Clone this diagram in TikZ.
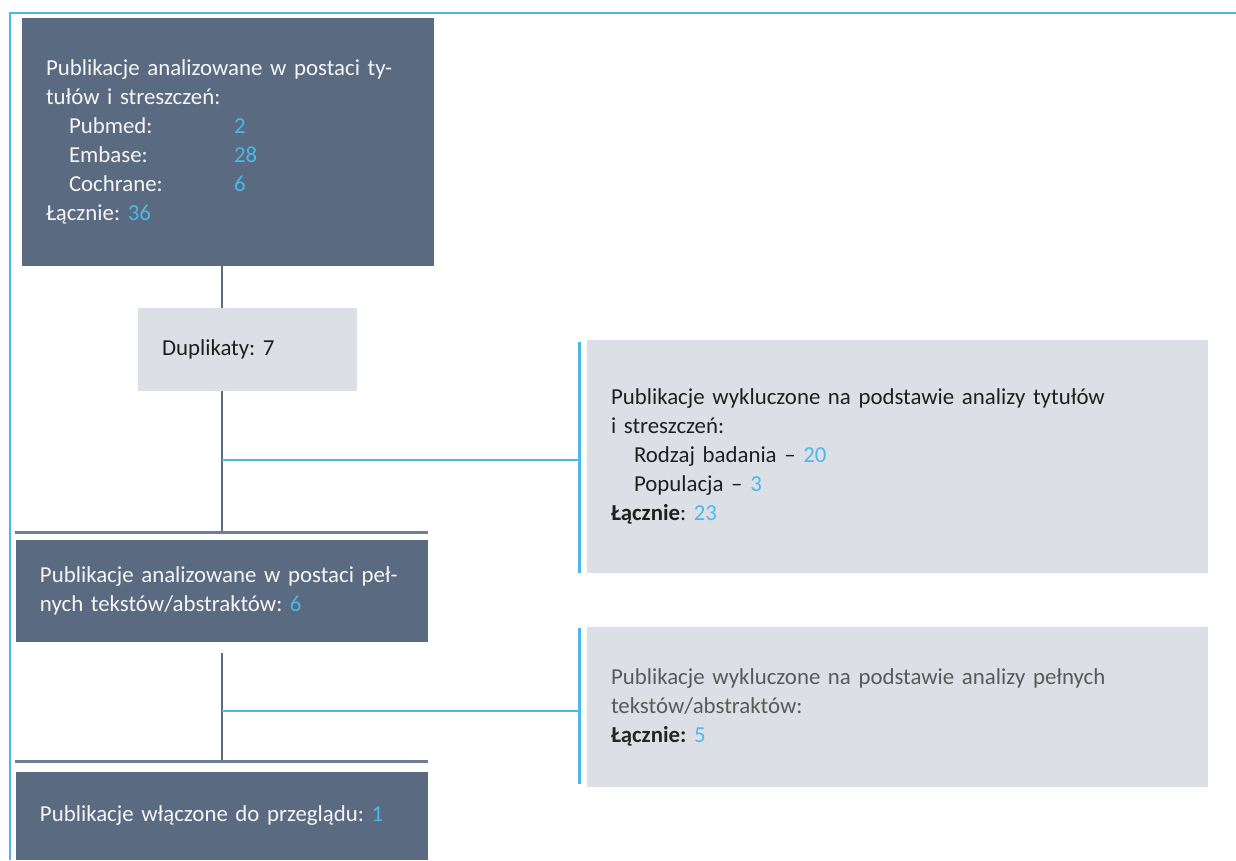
\documentclass[tikz,border=0pt]{standalone}
\usepackage{fontspec}
\setmainfont{Carlito}
\usetikzlibrary{positioning,calc}

\definecolor{slate}{HTML}{5A6A80}
\definecolor{slatebar}{HTML}{6E7E94}
\definecolor{paleblue}{HTML}{DCE0E6}
\definecolor{accent}{HTML}{4DB8E8}
\definecolor{greytext}{HTML}{595959}

\newcommand{\cnt}[1]{\textcolor{accent}{#1}}
\frenchspacing

\begin{document}
\begin{tikzpicture}[
	font=\fontsize{13}{16.5}\selectfont,
	dark/.style={
		rectangle, fill=slate, text=white!94!slate,
		text width=7.28cm, align=left,
		inner xsep=0.48cm, inner ysep=0pt
	},
	light/.style={
		rectangle, fill=paleblue, text=black!88,
		align=left, inner xsep=0.48cm, inner ysep=0pt
	},
	side/.style={
		light, text width=11.46cm
	},
	trunk/.style={draw=slate, line width=1.7pt},
	bar/.style={draw=slatebar, line width=1.7pt},
	branch/.style={draw=accent, line width=1.5pt},
	frame/.style={draw=accent, line width=1.1pt}
]
\useasboundingbox (0,0) rectangle (24.72,-17.2);

% Outer frame (cut at right and bottom)
\draw[frame] (0.2,-17.2) -- (0.2,-0.26) -- (24.72,-0.26);

% Main column
\node[dark, minimum height=4.96cm] (search) at (4.56,-2.84) {
	Publikacje analizowane w postaci ty-\\
	tułów i streszczeń:\\
	\hspace*{0.46cm}\makebox[3.3cm][l]{Pubmed:}\cnt{2}\\
	\hspace*{0.46cm}\makebox[3.3cm][l]{Embase:}\cnt{28}\\
	\hspace*{0.46cm}\makebox[3.3cm][l]{Cochrane:}\cnt{6}\\
	Łącznie: \cnt{36}
};
\node[light, text width=3.42cm, minimum height=1.66cm] (dup) at (4.95,-6.99) {Duplikaty: 7};
\node[dark, minimum height=2.04cm] (fulltext) at (4.44,-11.82) {
	Publikacje analizowane w postaci peł-\\
	nych tekstów/abstraktów: \cnt{6}
};
\node[dark, minimum height=1.76cm] (incl) at (4.44,-16.32) {
	Publikacje włączone do przeglądu: \cnt{1}
};

% Exclusions on the right
\node[side, minimum height=4.66cm] (excl1) at (17.95,-9.13) {
	Publikacje wykluczone na podstawie analizy tytułów\\
	i streszczeń:\\
	\hspace*{0.46cm}Rodzaj badania \textendash\ \cnt{20}\\
	\hspace*{0.46cm}Populacja \textendash\ \cnt{3}\\
	\textbf{Łącznie}: \cnt{23}
};
\node[side, minimum height=3.2cm, text=greytext] (excl2) at (17.95,-14.14) {
	Publikacje wykluczone na podstawie analizy pełnych\\
	tekstów/abstraktów:\\
	\textcolor{black!85}{\textbf{Łącznie:}} \cnt{5}
};

% Spine x=4.44
\coordinate (fork1) at (4.44,-9.2);
\coordinate (bar1)  at (4.44,-10.66);
\coordinate (top2)  at (4.44,-13.06);
\coordinate (fork2) at (4.44,-14.22);
\coordinate (bar2)  at (4.44,-15.24);

\draw[trunk] (search.south -| bar1) -- (dup.north -| bar1);
\draw[trunk] (dup.south -| bar1) -- (bar1);
\draw[trunk] (top2) -- (bar2);

\draw[bar] ($(fulltext.north west)+(-0.02,0.14)$) -- ($(fulltext.north east)+(0,0.14)$);
\draw[bar] ($(incl.north west)+(-0.02,0.2)$) -- ($(incl.north east)+(0,0.2)$);

% Side brackets
\draw[branch] ($(excl1.north west)+(-0.14,-0.04)$) -- ($(excl1.south west)+(-0.14,0)$);
\draw[branch] (fork1) -- ($(fork1 -| excl1.west)+(-0.14,0)$);
\draw[branch] ($(excl2.north west)+(-0.14,-0.02)$) -- ($(excl2.south west)+(-0.14,0.06)$);
\draw[branch] (fork2) -- ($(fork2 -| excl2.west)+(-0.14,0)$);

\end{tikzpicture}
\end{document}
